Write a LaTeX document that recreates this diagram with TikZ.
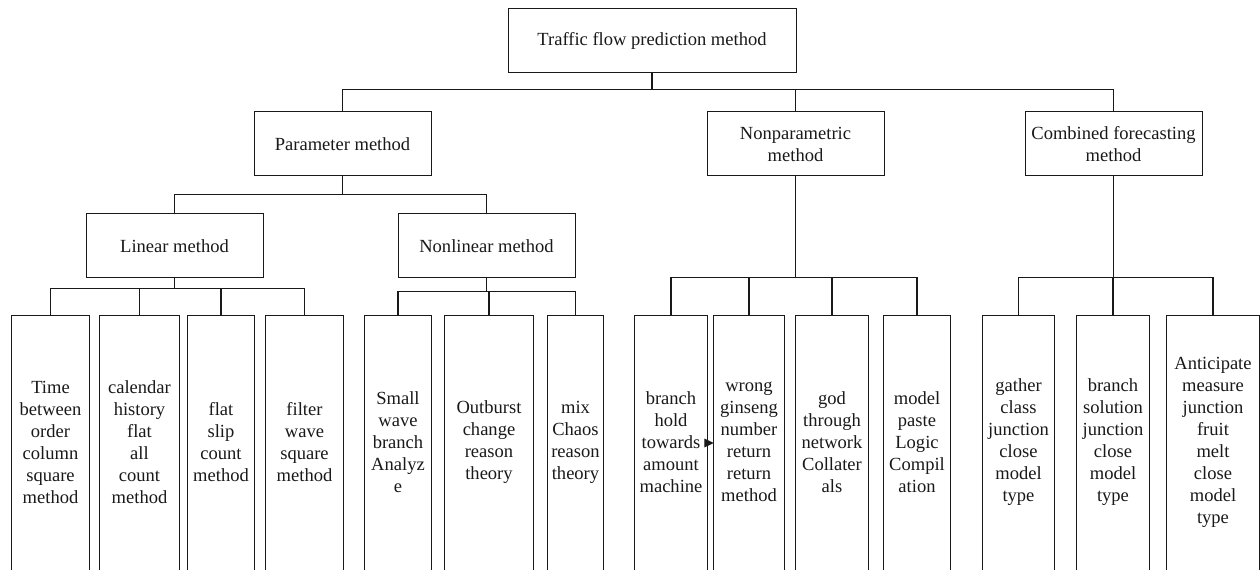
\documentclass[tikz,border=0pt]{standalone}
\usepackage{fontspec}
\setmainfont{Liberation Serif}
\usetikzlibrary{arrows.meta}
\begin{document}
\begin{tikzpicture}[x=0.75pt,y=-0.75pt,
  txt/.style={font=\fontsize{13.9}{16.5}\selectfont, align=center, inner sep=0pt, text=black!90},
  box/.style={txt, draw=black!90, line width=0.75pt, minimum height=48pt},
  wbox/.style={box, minimum width=132.75pt},
  leaf/.style={txt, minimum height=189pt, minimum width=#1},
  conn/.style={draw=black!90, line width=0.85pt},
  arr/.style={conn, -{Triangle[length=7pt,width=6.5pt]}}]
\useasboundingbox (0,0) rectangle (1260,570);

% top levels
\node[box, minimum width=216pt] (root) at (652,41) {Traffic flow prediction method};
\node[wbox] (param)  at (342.5,144) {Parameter method};
\node[wbox] (nonpar) at (795.5,144) {Nonparametric\\method};
\node[wbox] (comb)   at (1113.5,144) {Combined forecasting\\method};
\node[wbox] (lin)    at (174.5,246) {Linear method};
\node[wbox] (nonlin) at (486.5,246) {Nonlinear method};

% leaves
\node[leaf=57.75pt] (L1) at (50.5,442) {Time\\between\\order\\column\\square\\method};
\node[leaf=59.25pt] (L2) at (139.5,442) {calendar\\history\\flat\\all\\count\\method};
\node[leaf=49.5pt]  (L3) at (221,442) {flat\\slip\\count\\method};
\node[leaf=57.75pt] (L4) at (304.5,442) {filter\\wave\\square\\method};
\node[leaf=49.5pt]  (N1) at (398,442) {Small\\wave\\branch\\Analyz\\e};
\node[leaf=66pt]    (N2) at (489,442) {Outburst\\change\\reason\\theory};
\node[leaf=41.25pt] (N3) at (575.5,442) {mix\\Chaos\\reason\\theory};
\node[leaf=54pt]    (P1) at (671,442) {branch\\hold\\towards\\amount\\machine};
\node[leaf=52.5pt]  (P2) at (749,442) {wrong\\ginseng\\number\\return\\return\\method};
\node[leaf=54pt]    (P3) at (832,442) {god\\through\\network\\Collater\\als};
\node[leaf=49.5pt]  (P4) at (917,442) {model\\paste\\Logic\\Compil\\ation};
\node[leaf=53.25pt] (C1) at (1018.5,442) {gather\\class\\junction\\close\\model\\type};
\node[leaf=54pt]    (C2) at (1113,442) {branch\\solution\\junction\\close\\model\\type};
\node[leaf=69pt]    (C3) at (1213,442) {Anticipate\\measure\\junction\\fruit\\melt\\close\\model\\type};

\foreach \n in {L1,L2,L3,L4,N1,N2,N3,P1,P2,P3,P4,C1,C2,C3}
  \draw[conn, line width=0.75pt] (\n.north west) rectangle ([yshift=-15pt]\n.south east);

% connectors
\path (root.south) ++(0,16) coordinate (j0);
\draw[conn] (root.south) -- (j0);
\draw[conn] (j0) -| (param.north);
\draw[conn] (j0) -| (nonpar.north);
\draw[conn] (j0) -| (comb.north);

\path (param.south) ++(0,18) coordinate (j1);
\draw[conn] (param.south) -- (j1);
\draw[conn] (j1) -| (lin.north);
\draw[conn] (j1) -| (nonlin.north);

\path (lin.south) ++(0,10) coordinate (j2);
\draw[conn] (lin.south) -- (j2);
\foreach \n in {L1,L2,L3,L4} \draw[conn] (j2) -| (\n.north);

\path (nonlin.south) ++(0,13) coordinate (j3);
\draw[conn] (nonlin.south) -- (j3);
\foreach \n in {N1,N2,N3} \draw[conn] (j3) -| (\n.north);

\path (nonpar.south) ++(0,101) coordinate (j4);
\draw[conn] (nonpar.south) -- (j4);
\foreach \n in {P1,P2,P3,P4} \draw[conn] (j4) -| (\n.north);

\path (comb.south) ++(0,101) coordinate (j5);
\draw[conn] (comb.south) -- (j5);
\foreach \n in {C1,C2,C3} \draw[conn] (j5) -| (\n.north);

% stray arrowhead between P1 and P2
\draw[arr] ([yshift=-0.75pt]P1.east) -- ([yshift=-0.75pt]P2.west);
\end{tikzpicture}
\end{document}
